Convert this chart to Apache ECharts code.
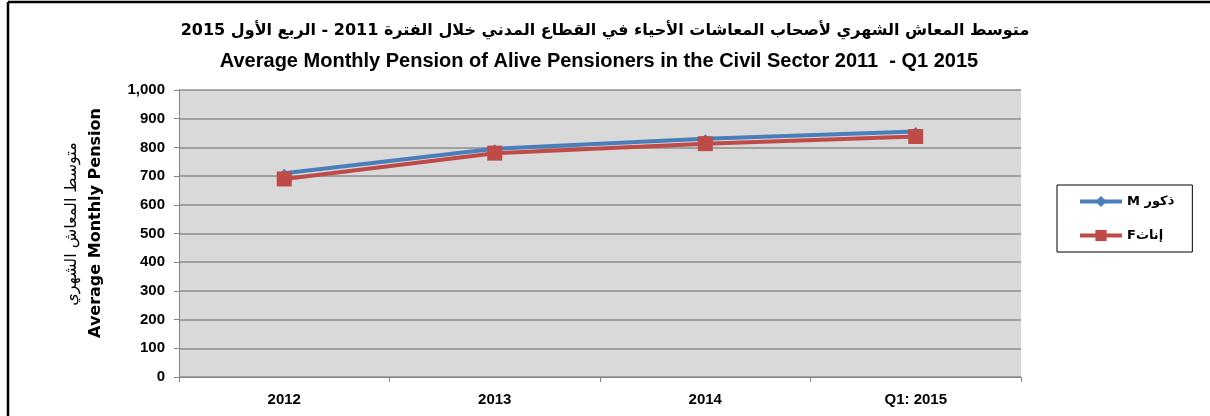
<!DOCTYPE html>
<html>
<head>
  <meta charset="utf-8" />
  <title>Average Monthly Pension of Alive Pensioners</title>
  <script src="https://cdn.jsdelivr.net/npm/echarts@6/dist/echarts.min.js"></script>
  <style>
    html, body { margin: 0; padding: 0; background: #fff; }
    #chart { width: 1210px; height: 416px; }
  </style>
</head>
<body>
  <div id="chart"></div>
  <script>
    // categories and values
    const categories = ['2012', '2013', '2014', 'Q1: 2015'];
    const maleValues = [710, 795, 830, 855];
    const femaleValues = [690, 780, 813, 838];
    const seriesNames = ['M ذكور', 'Fإناث'];
    const titleAr = 'متوسط المعاش الشهري لأصحاب المعاشات الأحياء في القطاع المدني خلال الفترة 2011 - الربع الأول 2015';
    const titleEn = 'Average Monthly Pension of Alive Pensioners in the Civil Sector 2011  - Q1 2015';
    const yTitleAr = 'متوسط المعاش الشهري';
    const yTitleEn = 'Average Monthly Pension';

    const font = '"Liberation Sans", "DejaVu Sans", sans-serif';
    const chart = echarts.init(document.getElementById('chart'));

    const option = {
      animation: false,
      backgroundColor: '#fff',
      title: [
        {
          text: titleAr, left: 600, textAlign: 'center', top: 18,
          textStyle: { fontSize: 16, fontWeight: 'bold', color: '#000', fontFamily: '"DejaVu Sans", sans-serif' }
        },
        {
          text: titleEn, left: 594, textAlign: 'center', top: 46,
          textStyle: { fontSize: 20, fontWeight: 'bold', color: '#000', fontFamily: font }
        }
      ],
      grid: {
        left: 179, right: 189, top: 90, bottom: 39,
        show: true, backgroundColor: '#d9d9d9', borderWidth: 0
      },
      legend: {
        orient: 'vertical',
        left: 1057, top: 185,
        padding: [10, 18, 10, 21],
        itemGap: 21,
        itemWidth: 42,
        itemHeight: 14,
        borderColor: '#000',
        borderWidth: 1,
        lineStyle: { width: 4 },
        textStyle: { fontSize: 13, fontWeight: 'bold', color: '#000', fontFamily: '"DejaVu Sans", sans-serif' },
        data: seriesNames
      },
      xAxis: {
        type: 'category',
        data: categories,
        boundaryGap: true,
        axisLine: { lineStyle: { color: '#868686', width: 1 } },
        axisTick: { show: true, length: 5, lineStyle: { color: '#868686' } },
        axisLabel: { margin: 15, fontSize: 15, fontWeight: 'bold', color: '#000', fontFamily: font }
      },
      yAxis: {
        type: 'value',
        min: 0, max: 1000, interval: 100,
        axisLine: { show: true, lineStyle: { color: '#868686', width: 1 } },
        axisTick: { show: true, length: 5, lineStyle: { color: '#868686' } },
        splitLine: { lineStyle: { color: '#8c8c8c', width: 1.5 } },
        axisLabel: {
          margin: 14, fontSize: 15, fontWeight: 'bold', color: '#000', fontFamily: font,
          formatter: v => v.toLocaleString('en-US')
        }
      },
      graphic: [
        { type: 'line', shape: { x1: 8, y1: 2, x2: 1210, y2: 2 }, style: { stroke: '#000', lineWidth: 2.5 } },
        { type: 'line', shape: { x1: 8, y1: 2, x2: 8, y2: 416 }, style: { stroke: '#000', lineWidth: 2.5 } },
        {
          type: 'text', x: 72, y: 224, rotation: Math.PI / 2,
          style: { text: yTitleAr, fill: '#000', font: '16px "DejaVu Sans", sans-serif', align: 'center', verticalAlign: 'middle' }
        },
        {
          type: 'text', x: 96, y: 223, rotation: Math.PI / 2,
          style: { text: yTitleEn, fill: '#000', font: 'bold 16px "DejaVu Sans", sans-serif', align: 'center', verticalAlign: 'middle' }
        }
      ],
      series: [
        {
          name: seriesNames[0], type: 'line', data: maleValues,
          symbol: 'diamond', symbolSize: 9,
          lineStyle: { color: '#4a7ebb', width: 4 },
          itemStyle: { color: '#4a7ebb' }
        },
        {
          name: seriesNames[1], type: 'line', data: femaleValues,
          symbol: 'rect', symbolSize: 15,
          lineStyle: { color: '#be4b48', width: 4 },
          itemStyle: { color: '#be4b48' }
        }
      ]
    };
    chart.setOption(option);
  </script>
</body>
</html>
